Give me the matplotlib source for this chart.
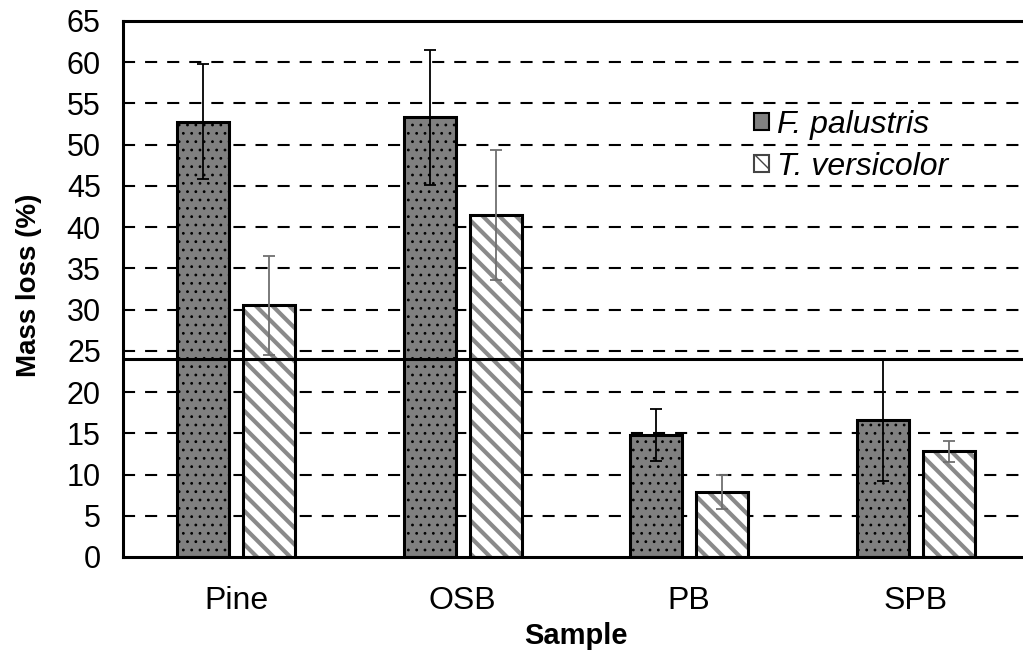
import matplotlib
matplotlib.use("Agg")
import matplotlib.pyplot as plt
import numpy as np
from matplotlib.patches import Patch

categories = ["Pine", "OSB", "PB", "SPB"]
f_palustris = [52.8, 53.3, 14.8, 16.6]
f_palustris_err = [7.0, 8.2, 3.2, 7.4]
t_versicolor = [30.5, 41.5, 7.9, 12.8]
t_versicolor_err = [6.0, 7.9, 2.1, 1.3]
threshold = 24.0
yticks = list(range(0, 70, 5))

plt.rcParams['font.family'] = ['Liberation Sans', 'DejaVu Sans']

fig = plt.figure(figsize=(10.23, 6.57), dpi=100)
ax = fig.add_axes([123/1023, 1-557/657, 906/1023, (557-21)/657])

x = np.arange(len(categories))
w = 0.23
off = 0.145

# gridlines
for v in yticks[1:-1]:
    ax.axhline(v, color='black', lw=1.5, linestyle=(0, (5.8, 4.8)), zorder=1)

# F. palustris bars
with plt.rc_context({'hatch.linewidth': 0.8, 'hatch.color': 'black'}):
    ax.bar(x - off, f_palustris, w, color='#808080', edgecolor='black', linewidth=0,
           hatch='..', zorder=2)
ax.bar(x - off, f_palustris, w, fill=False, edgecolor='black', linewidth=2.2, zorder=3)
# T. versicolor bars (gray hatch, black edge)
with plt.rc_context({'hatch.linewidth': 3.0}):
    ax.bar(x + off, t_versicolor, w, color='white', edgecolor='#8a8a8a', linewidth=0,
           hatch='\\\\', zorder=2)
ax.bar(x + off, t_versicolor, w, fill=False, edgecolor='black', linewidth=2.2, zorder=3)

ax.errorbar(x - off, f_palustris, yerr=f_palustris_err, fmt='none', ecolor='black',
            elinewidth=1.3, capsize=4, capthick=1.3, zorder=4)
ax.errorbar(x + off, t_versicolor, yerr=t_versicolor_err, fmt='none', ecolor='#707070',
            elinewidth=1.3, capsize=4, capthick=1.3, zorder=4)

ax.axhline(threshold, color='black', lw=2.2, zorder=5)

ax.set_ylim(0, 65)
ax.set_xlim(-0.5, 3.5)
ax.set_yticks(yticks)
ax.set_xticks(x)
ax.set_xticklabels(categories)
ax.tick_params(axis='both', length=0)
ax.tick_params(axis='y', labelsize=22, pad=16)
ax.tick_params(axis='x', labelsize=23, pad=21)

for s in ['left', 'bottom', 'top']:
    ax.spines[s].set_linewidth(2.2)
ax.spines['right'].set_visible(False)

ax.set_ylabel('Mass loss (%)', fontsize=20, fontweight='bold')
ax.yaxis.set_label_coords(-0.089, 0.507)
ax.set_xlabel('Sample', fontsize=21, fontweight='bold', labelpad=4)

with plt.rc_context({'hatch.linewidth': 2.0}):
    h1 = Patch(facecolor='#808080', edgecolor='black', linewidth=1.5)
    h2 = Patch(facecolor='white', edgecolor='#444444', hatch='\\', linewidth=1.5)
leg = fig.legend([h1, h2], ['F. palustris', 'T. versicolor'], loc='upper left',
                 bbox_to_anchor=(754/1023, 1-110/657), frameon=False,
                 prop={'size': 23, 'style': 'italic'}, handlelength=0.47, handleheight=0.47,
                 handletextpad=0.25, labelspacing=0.37, borderpad=0, borderaxespad=0)

fig.savefig('out.png', dpi=100)
